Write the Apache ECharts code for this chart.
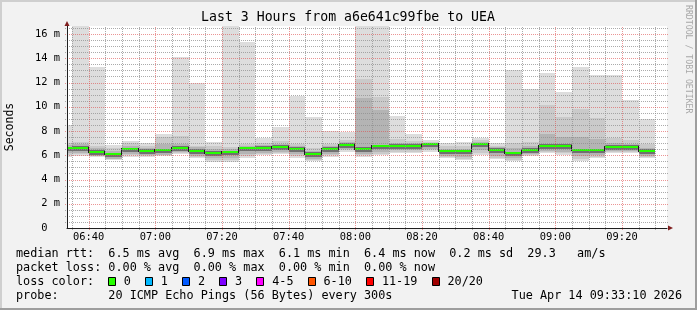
<!DOCTYPE html>
<html><head><meta charset="utf-8">
<script src="https://cdn.jsdelivr.net/npm/echarts@6/dist/echarts.min.js"></script>
<style>html,body{margin:0;padding:0;background:#f2f2f2}#c{width:697px;height:310px}</style>
</head><body><div id="c"></div>
<script>
// ---------------- data ----------------
const titleText = 'Last 3 Hours from a6e641c99fbe to UEA';
const yAxisName = 'Seconds';
const watermark = 'RRDTOOL / TOBI OETIKER';
const viewStart = '06:33:30';
const viewEnd = '09:33:30';
const stepMinutes = 5;
const intervalStart = ['06:30','06:35','06:40','06:45','06:50','06:55','07:00','07:05','07:10','07:15','07:20','07:25',
  '07:30','07:35','07:40','07:45','07:50','07:55','08:00','08:05','08:10','08:15','08:20','08:25',
  '08:30','08:35','08:40','08:45','08:50','08:55','09:00','09:05','09:10','09:15','09:20','09:25'];
// smoke (ms): nested ranges of the sorted pings, outermost first
const smokeMax = [8.49,16.9,13.3,6.85,7.17,7.0,7.75,14.07,11.99,7.09,16.9,15.3,7.4,8.33,10.9,9.18,8.0,7.95,16.9,16.9,9.26,7.75,7.26,6.98,7.12,7.46,7.0,13.03,11.43,12.78,11.2,13.3,12.62,12.62,10.56,8.99];
const smokeHi2 = [7.0,7.07,6.75,6.6,6.98,6.8,7.53,7.59,6.8,6.75,6.7,6.95,7.05,7.15,6.9,6.6,6.95,7.25,12.29,10.8,7.3,7.15,7.1,6.75,6.8,7.25,6.8,6.98,7.12,10.14,9.18,9.84,9.04,7.4,7.26,6.9];
const smokeHi3 = [6.85,6.9,6.6,6.35,6.8,6.6,6.95,6.95,6.65,6.5,6.5,6.8,6.85,6.95,6.75,6.35,6.75,7.1,10.75,9.73,7.05,7.0,7.05,6.55,6.55,7.1,6.65,6.6,6.75,7.75,7.48,7.5,7.3,7.0,6.95,6.6];
const smokeHi4 = [6.7,6.75,6.42,6.2,6.62,6.5,6.55,6.74,6.5,6.34,6.37,6.72,6.74,6.84,6.65,6.25,6.65,6.99,6.64,6.85,6.92,6.92,7.02,6.47,6.47,7.02,6.58,6.28,6.59,6.9,6.92,6.55,6.55,6.82,6.82,6.49];
const medianRtt = [6.57,6.62,6.29,6.08,6.5,6.38,6.43,6.62,6.38,6.22,6.25,6.6,6.62,6.72,6.53,6.13,6.53,6.87,6.52,6.73,6.8,6.8,6.9,6.35,6.35,6.9,6.46,6.16,6.47,6.78,6.8,6.43,6.43,6.7,6.7,6.37];
const smokeLo4 = [6.32,6.37,6.04,5.83,6.25,6.13,6.18,6.37,6.13,5.97,6.0,6.35,6.37,6.47,6.28,5.88,6.28,6.62,6.27,6.48,6.55,6.55,6.65,6.1,6.1,6.65,6.21,5.91,6.22,6.53,6.55,6.18,6.18,6.45,6.45,6.12];
const smokeLo3 = [6.17,6.22,5.95,5.72,6.1,6.0,6.05,6.25,5.95,5.75,5.78,6.1,6.22,6.3,6.1,5.72,6.12,6.5,6.1,6.3,6.4,6.4,6.5,5.95,5.85,6.4,5.95,5.75,6.12,6.38,6.3,5.9,6.0,6.35,6.35,5.95];
const smokeLo2 = [6.0,6.08,5.9,5.66,5.98,5.95,6.0,6.15,5.85,5.6,5.6,5.9,6.1,6.2,5.92,5.62,6.0,6.4,5.98,6.12,6.25,6.25,6.4,5.85,5.72,6.2,5.8,5.62,6.05,6.25,6.15,5.7,5.85,6.25,6.25,5.85];
const smokeMin = [5.88,5.96,5.83,5.6,5.88,5.88,5.93,6.1,5.75,5.47,5.47,5.75,6.02,6.1,5.8,5.53,5.88,6.3,5.88,6.02,6.16,6.16,6.3,5.75,5.6,6.02,5.66,5.53,5.97,6.16,6.02,5.53,5.75,6.16,6.16,5.75];
// axes / grid
const xTickLabels = ['06:40','07:00','07:20','07:40','08:00','08:20','08:40','09:00','09:20'];
const xMinorGrid = ['06:35','06:40','06:45','06:50','06:55','07:00','07:05','07:10','07:15','07:20','07:25','07:30',
  '07:35','07:40','07:45','07:50','07:55','08:00','08:05','08:10','08:15','08:20','08:25','08:30',
  '08:35','08:40','08:45','08:50','08:55','09:00','09:05','09:10','09:15','09:20','09:25','09:30'];
const yMax = 16.66;
const yTickStep = 2;
const yMajorGrid = [2,4,6,8,10,12,14,16];
const yMinorGrid = [0.5,1,1.5,2.5,3,3.5,4.5,5,5.5,6.5,7,7.5,8.5,9,9.5,10.5,11,11.5,12.5,13,13.5,14.5,15,15.5,16.5];
// legend
const statsLines = [
  'median rtt:  6.5 ms avg  6.9 ms max  6.1 ms min  6.4 ms now  0.2 ms sd  29.3   am/s',
  'packet loss: 0.00 % avg  0.00 % max  0.00 % min  0.00 % now'
];
const lossTitle = 'loss color:';
const lossLabels = ['0','1','2','3','4-5','6-10','11-19','20/20'];
const lossColors = ['#26ff00','#00b8ff','#0059ff','#7e00ff','#ff00ff','#ff5500','#ff0000','#a10000'];
const probeLine = 'probe:       20 ICMP Echo Pings (56 Bytes) every 300s';
const dateLine = 'Tue Apr 14 09:33:10 2026';

// ---------------- build ----------------
function toMin(s){const p=s.split(':').map(Number);return p[0]*60+p[1]+(p[2]||0)/60;}
function fmt(v){const h=Math.floor(v/60+1e-9),m=Math.round(v-h*60);return String(h).padStart(2,'0')+':'+String(m).padStart(2,'0');}
const MONO = '"DejaVu Sans Mono", monospace';
const GRID_C = 'rgba(143,143,143,0.75)';
const MGRID_C = 'rgba(222,79,79,0.6)';

const smokeData = intervalStart.map((s,i)=>{
  const a = toMin(s);
  return [a, a+stepMinutes, smokeMax[i], smokeMin[i], smokeHi2[i], smokeLo2[i], smokeHi3[i], smokeLo3[i], smokeHi4[i], smokeLo4[i],
          medianRtt[i], i>0 ? medianRtt[i-1] : medianRtt[i]];
});
const smokeColors = ['#dddddd','#cacaca','#b4b4b4','#707070'];

function clip(r, cs){return echarts.graphic.clipRectByRect(r,{x:cs.x,y:cs.y,width:cs.width,height:cs.height});}

function renderSmoke(params, api){
  const cs = params.coordSys;
  const s = api.value(0), e = api.value(1);
  const children = [];
  for (let k=0;k<4;k++){
    const p1 = api.coord([s, api.value(2+2*k)]);
    const p2 = api.coord([e, api.value(3+2*k)]);
    const x1 = Math.round(p1[0]), x2 = Math.round(p2[0]);
    const y1 = Math.round(p1[1]), y2 = Math.round(p2[1]);
    const r = clip({x:x1,y:y1,width:x2-x1,height:y2-y1}, cs);
    if (r) children.push({type:'rect', shape:r, style:{fill:smokeColors[k]}});
  }
  return {type:'group', children};
}
function renderMedian(params, api){
  const cs = params.coordSys;
  const s = api.value(0), e = api.value(1);
  const p1 = api.coord([s, api.value(10)]);
  const p2 = api.coord([e, api.value(10)]);
  const pp = api.coord([s, api.value(11)]);
  const x1 = Math.round(p1[0]), x2 = Math.round(p2[0]);
  const y = Math.round(p1[1]);
  const children = [];
  const r = clip({x:x1,y:y-1,width:x2-x1,height:2}, cs);
  if (r) children.push({type:'rect', shape:r, style:{fill:'#26ff00'}});
  const yp = Math.round(pp[1]);
  if (yp !== y && x1 >= cs.x){
    children.push({type:'rect', shape:{x:x1-1, y:Math.min(y,yp)-1, width:1, height:Math.abs(y-yp)+2}, style:{fill:'#1a1a1a'}});
  }
  return {type:'group', children};
}
function hLineRender(color){
  return function(params, api){
    const cs = params.coordSys;
    const y = Math.round(api.coord([toMin(viewStart), api.value(1)])[1]) + 0.5;
    return {type:'line', shape:{x1:cs.x-2, y1:y, x2:cs.x+cs.width+2, y2:y},
      style:{stroke:color, lineWidth:1, lineDash:[1,1]}};
  };
}
function vLineRender(color){
  return function(params, api){
    const cs = params.coordSys;
    const x = Math.round(api.coord([api.value(0), 0])[0]) + 0.5;
    if (x < cs.x || x > cs.x+cs.width+1) return null;
    return {type:'line', shape:{x1:x, y1:cs.y+cs.height+2, x2:x, y2:cs.y},
      style:{stroke:color, lineWidth:1, lineDash:[1,1]}};
  };
}
const x0 = toMin(viewStart);
const hMinorData = yMinorGrid.map(v=>[x0, v]);
const hMajorData = yMajorGrid.map(v=>[x0, v]);
const vMinorData = xMinorGrid.filter(t=>xTickLabels.indexOf(t)<0).map(t=>[toMin(t), 0]);
const vMajorData = xTickLabels.map(t=>[toMin(t), 0]);

// legend graphics
const LF = 11.8, CW = LF*0.6021, LX = 16;
const rowY = [254, 268, 282, 296];
const graphics = [
  {type:'rect', shape:{x:0,y:0,width:697,height:2}, style:{fill:'#cfcfcf'}, silent:true},
  {type:'rect', shape:{x:0,y:0,width:2,height:310}, style:{fill:'#cfcfcf'}, silent:true},
  {type:'rect', shape:{x:0,y:308,width:697,height:2}, style:{fill:'#9e9e9e'}, silent:true},
  {type:'rect', shape:{x:695,y:0,width:2,height:310}, style:{fill:'#9e9e9e'}, silent:true},
  {type:'text', x:348, y:18, style:{text:titleText, font:'13.2px '+MONO, fill:'#000', align:'center', verticalAlign:'middle'}},
  {type:'text', x:10.5, y:127, rotation:Math.PI/2, style:{text:yAxisName, font:'11.5px '+MONO, fill:'#000', align:'center', verticalAlign:'middle'}},
  {type:'text', x:688.5, y:5, rotation:-Math.PI/2, style:{text:watermark, font:'8.2px '+MONO, fill:'#a8a8a8', align:'left', verticalAlign:'middle'}},
  {type:'polygon', shape:{points:[[64.5,26],[69.5,26],[67,21]]}, style:{fill:'#801f1f'}, z:100},
  {type:'polygon', shape:{points:[[668,225.5],[668,230.5],[673,228]]}, style:{fill:'#801f1f'}, z:100},
];
statsLines.forEach((t,i)=>graphics.push({type:'text', x:LX, y:rowY[i], style:{text:t, font:LF+'px '+MONO, fill:'#000', align:'left', verticalAlign:'middle'}}));
graphics.push({type:'text', x:LX, y:rowY[2], style:{text:lossTitle, font:LF+'px '+MONO, fill:'#000', align:'left', verticalAlign:'middle'}});
let bx = LX + 13*CW - 0.3;
lossLabels.forEach((lab,i)=>{
  graphics.push({type:'rect', shape:{x:Math.round(bx)+0.5, y:rowY[2]-4.5, width:7, height:8}, style:{fill:lossColors[i], stroke:'#000', lineWidth:1}});
  graphics.push({type:'text', x:bx+15.7, y:rowY[2], style:{text:lab, font:LF+'px '+MONO, fill:'#000', align:'left', verticalAlign:'middle'}});
  bx += 15.7 + lab.length*CW + 14.3;
});
graphics.push({type:'text', x:LX, y:rowY[3], style:{text:probeLine, font:LF+'px '+MONO, fill:'#000', align:'left', verticalAlign:'middle'}});
graphics.push({type:'text', x:682, y:rowY[3], style:{text:dateLine, font:LF+'px '+MONO, fill:'#000', align:'right', verticalAlign:'middle'}});

const chart = echarts.init(document.getElementById('c'), null, {renderer:'canvas'});
chart.setOption({
  animation:false,
  backgroundColor:'#f2f2f2',
  grid:{left:67, top:26, width:600, height:202, show:true, backgroundColor:'#ffffff', borderWidth:0},
  xAxis:{type:'value', min:toMin(viewStart), max:toMin(viewEnd), z:10,
    axisLine:{show:true, lineStyle:{color:'#1f1f1f', width:1}},
    axisTick:{show:false}, splitLine:{show:false},
    axisLabel:{customValues:xTickLabels.map(toMin), formatter:v=>fmt(v), fontFamily:MONO, fontSize:10.4, color:'#000', margin:4}},
  yAxis:{type:'value', min:0, max:yMax, interval:yTickStep, z:10,
    axisLine:{show:true, lineStyle:{color:'#1f1f1f', width:1}},
    axisTick:{show:false}, splitLine:{show:false},
    axisLabel:{showMaxLabel:false, formatter:v=> v===0 ? '0\u00a0\u00a0' : v+' m', fontFamily:MONO, fontSize:10.4, color:'#000', margin:7}},
  graphic:graphics,
  series:[
    {type:'custom', z:1, data:smokeData, renderItem:renderSmoke, silent:true},
    {type:'custom', z:2, data:smokeData, renderItem:renderMedian, silent:true},
    {type:'custom', z:3, data:hMinorData, renderItem:hLineRender(GRID_C), silent:true},
    {type:'custom', z:3, data:vMinorData, renderItem:vLineRender(GRID_C), silent:true},
    {type:'custom', z:4, data:hMajorData, renderItem:hLineRender(MGRID_C), silent:true},
    {type:'custom', z:4, data:vMajorData, renderItem:vLineRender(MGRID_C), silent:true}
  ]
});
</script></body></html>
